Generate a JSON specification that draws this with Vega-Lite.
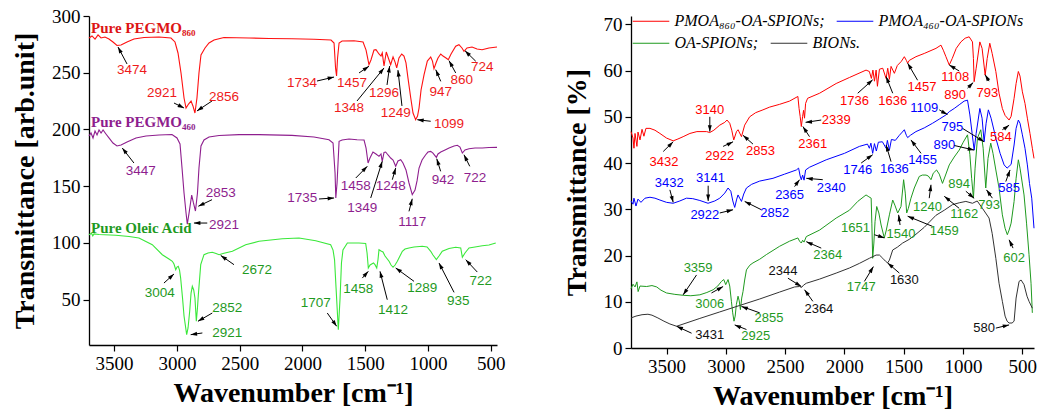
{
"$schema": "https://vega.github.io/schema/vega-lite/v6.json",
"background": "white",
"padding": {"left": 11, "top": 7, "right": 0, "bottom": 0},
"config": {
 "view": {"stroke": null},
 "axis": {"grid": false, "domainColor": "black", "tickColor": "black", "labelColor": "black", "titleColor": "black",
  "labelFont": "Liberation Serif", "labelFontSize": 19, "titleFont": "Liberation Serif", "titleFontSize": 28, "titleFontWeight": "bold",
  "labelPadding": 3, "domainWidth": 1.3, "tickWidth": 1.2, "labelOverlap": false, "labelFlush": false}
},
"datasets": {
 "Lc": [
 {"s":"R","wn":3700,"t":280.6},{"s":"R","wn":3676,"t":282.4},{"s":"R","wn":3652,"t":279.7},{"s":"R","wn":3628,"t":283.3},{"s":"R","wn":3604,"t":280.6},{"s":"R","wn":3573,"t":281.5},{"s":"R","wn":3541,"t":279.7},{"s":"R","wn":3509,"t":277.1},{"s":"R","wn":3477,"t":274},{"s":"R","wn":3445,"t":274.4},{"s":"R","wn":3397,"t":277.1},{"s":"R","wn":3342,"t":279.7},{"s":"R","wn":3262,"t":281},{"s":"R","wn":3142,"t":281.5},{"s":"R","wn":3047,"t":280.6},{"s":"R","wn":3015,"t":277.1},{"s":"R","wn":2991,"t":267.4},{"s":"R","wn":2967,"t":249.8},{"s":"R","wn":2943,"t":227.7},{"s":"R","wn":2927,"t":218.9},{"s":"R","wn":2907,"t":222.4},{"s":"R","wn":2887,"t":225.1},{"s":"R","wn":2872,"t":220.7},{"s":"R","wn":2856,"t":214.5},{"s":"R","wn":2840,"t":227.7},{"s":"R","wn":2824,"t":249.8},{"s":"R","wn":2808,"t":265.6},{"s":"R","wn":2776,"t":271.8},{"s":"R","wn":2744,"t":276.2},{"s":"R","wn":2704,"t":278.8},{"s":"R","wn":2625,"t":281},{"s":"R","wn":2425,"t":280.6},{"s":"R","wn":2266,"t":280.2},{"s":"R","wn":2083,"t":280},{"s":"R","wn":1908,"t":279.5},{"s":"R","wn":1772,"t":278.8},{"s":"R","wn":1748,"t":276.2},{"s":"R","wn":1736,"t":254.2},{"s":"R","wn":1728,"t":247.1},{"s":"R","wn":1720,"t":263},{"s":"R","wn":1708,"t":276.2},{"s":"R","wn":1684,"t":278},{"s":"R","wn":1589,"t":278.2},{"s":"R","wn":1517,"t":277.1},{"s":"R","wn":1493,"t":270},{"s":"R","wn":1470,"t":257.1},{"s":"R","wn":1454,"t":261.2},{"s":"R","wn":1430,"t":270},{"s":"R","wn":1414,"t":270.3},{"s":"R","wn":1390,"t":266.5},{"s":"R","wn":1374,"t":264.7},{"s":"R","wn":1364,"t":267.4},{"s":"R","wn":1350,"t":255.9},{"s":"R","wn":1332,"t":268.3},{"s":"R","wn":1310,"t":261.2},{"s":"R","wn":1297,"t":257.1},{"s":"R","wn":1278,"t":263.9},{"s":"R","wn":1262,"t":259.4},{"s":"R","wn":1249,"t":254.2},{"s":"R","wn":1231,"t":263},{"s":"R","wn":1209,"t":266.5},{"s":"R","wn":1191,"t":264.7},{"s":"R","wn":1175,"t":258.6},{"s":"R","wn":1159,"t":245.3},{"s":"R","wn":1137,"t":227.7},{"s":"R","wn":1119,"t":214.5},{"s":"R","wn":1098,"t":208.6},{"s":"R","wn":1083,"t":211.8},{"s":"R","wn":1071,"t":218.9},{"s":"R","wn":1055,"t":234.8},{"s":"R","wn":1031,"t":248.3},{"s":"R","wn":1005,"t":260.3},{"s":"R","wn":978,"t":263.9},{"s":"R","wn":964,"t":260.3},{"s":"R","wn":952,"t":253.5},{"s":"R","wn":936,"t":258.6},{"s":"R","wn":920,"t":263},{"s":"R","wn":898,"t":266.5},{"s":"R","wn":880,"t":264.7},{"s":"R","wn":856,"t":263},{"s":"R","wn":838,"t":261.5},{"s":"R","wn":816,"t":266.5},{"s":"R","wn":779,"t":273.3},{"s":"R","wn":753,"t":274.7},{"s":"R","wn":729,"t":271.8},{"s":"R","wn":713,"t":268.9},{"s":"R","wn":689,"t":271.8},{"s":"R","wn":649,"t":272.7},{"s":"R","wn":609,"t":270.9},{"s":"R","wn":569,"t":270.3},{"s":"R","wn":514,"t":271.8},{"s":"R","wn":450,"t":272.7},
 {"s":"P","wn":3700,"t":194.2},{"s":"P","wn":3684,"t":196.9},{"s":"P","wn":3668,"t":192.5},{"s":"P","wn":3652,"t":198.6},{"s":"P","wn":3636,"t":195.1},{"s":"P","wn":3620,"t":199.5},{"s":"P","wn":3604,"t":196.9},{"s":"P","wn":3588,"t":199.5},{"s":"P","wn":3565,"t":196},{"s":"P","wn":3541,"t":192.5},{"s":"P","wn":3509,"t":188},{"s":"P","wn":3477,"t":185.4},{"s":"P","wn":3445,"t":186.3},{"s":"P","wn":3397,"t":188.9},{"s":"P","wn":3326,"t":192.5},{"s":"P","wn":3246,"t":194.2},{"s":"P","wn":3142,"t":195.1},{"s":"P","wn":3039,"t":195.6},{"s":"P","wn":2999,"t":192.5},{"s":"P","wn":2975,"t":187.2},{"s":"P","wn":2959,"t":166},{"s":"P","wn":2943,"t":144},{"s":"P","wn":2927,"t":126.3},{"s":"P","wn":2917,"t":116.6},{"s":"P","wn":2903,"t":126.3},{"s":"P","wn":2882,"t":142.2},{"s":"P","wn":2868,"t":135.2},{"s":"P","wn":2852,"t":128.1},{"s":"P","wn":2836,"t":144},{"s":"P","wn":2824,"t":166},{"s":"P","wn":2808,"t":185.4},{"s":"P","wn":2784,"t":190.7},{"s":"P","wn":2744,"t":193.3},{"s":"P","wn":2664,"t":194.7},{"s":"P","wn":2505,"t":195.4},{"s":"P","wn":2346,"t":195.4},{"s":"P","wn":2083,"t":194.8},{"s":"P","wn":1908,"t":193.3},{"s":"P","wn":1788,"t":190.9},{"s":"P","wn":1756,"t":188},{"s":"P","wn":1740,"t":161.6},{"s":"P","wn":1734,"t":139.6},{"s":"P","wn":1724,"t":152.8},{"s":"P","wn":1708,"t":189.5},{"s":"P","wn":1684,"t":190.7},{"s":"P","wn":1629,"t":191.6},{"s":"P","wn":1565,"t":190.9},{"s":"P","wn":1509,"t":190.7},{"s":"P","wn":1493,"t":183.6},{"s":"P","wn":1477,"t":170.4},{"s":"P","wn":1462,"t":174.8},{"s":"P","wn":1438,"t":180.1},{"s":"P","wn":1414,"t":178.4},{"s":"P","wn":1390,"t":176.3},{"s":"P","wn":1374,"t":178.4},{"s":"P","wn":1364,"t":171.9},{"s":"P","wn":1350,"t":179.8},{"s":"P","wn":1337,"t":180.1},{"s":"P","wn":1318,"t":177.5},{"s":"P","wn":1297,"t":174.8},{"s":"P","wn":1278,"t":173.1},{"s":"P","wn":1257,"t":167.5},{"s":"P","wn":1239,"t":172.2},{"s":"P","wn":1217,"t":173.3},{"s":"P","wn":1199,"t":170.4},{"s":"P","wn":1175,"t":164.3},{"s":"P","wn":1151,"t":152.8},{"s":"P","wn":1125,"t":142.5},{"s":"P","wn":1103,"t":146.6},{"s":"P","wn":1087,"t":154.6},{"s":"P","wn":1071,"t":166},{"s":"P","wn":1047,"t":173.1},{"s":"P","wn":1018,"t":177.7},{"s":"P","wn":1000,"t":180.1},{"s":"P","wn":978,"t":180.7},{"s":"P","wn":960,"t":179.2},{"s":"P","wn":933,"t":175.4},{"s":"P","wn":920,"t":178.4},{"s":"P","wn":898,"t":180.1},{"s":"P","wn":864,"t":181.9},{"s":"P","wn":832,"t":183.6},{"s":"P","wn":792,"t":185.4},{"s":"P","wn":766,"t":186},{"s":"P","wn":745,"t":184.5},{"s":"P","wn":726,"t":179.2},{"s":"P","wn":705,"t":181.9},{"s":"P","wn":673,"t":183},{"s":"P","wn":625,"t":183.6},{"s":"P","wn":567,"t":183.6},{"s":"P","wn":514,"t":184.1},{"s":"P","wn":450,"t":184.2},
 {"s":"G","wn":3700,"t":107.2},{"s":"G","wn":3680,"t":108.5},{"s":"G","wn":3670,"t":106.2},{"s":"G","wn":3660,"t":107.9},{"s":"G","wn":3620,"t":107.4},{"s":"G","wn":3487,"t":106.7},{"s":"G","wn":3381,"t":105.6},{"s":"G","wn":3302,"t":104.3},{"s":"G","wn":3196,"t":98.4},{"s":"G","wn":3116,"t":89.6},{"s":"G","wn":3063,"t":85.8},{"s":"G","wn":3036,"t":83.8},{"s":"G","wn":3023,"t":81.4},{"s":"G","wn":3009,"t":76.4},{"s":"G","wn":2999,"t":78.7},{"s":"G","wn":2989,"t":79.4},{"s":"G","wn":2979,"t":76.1},{"s":"G","wn":2970,"t":69.1},{"s":"G","wn":2955,"t":51.4},{"s":"G","wn":2943,"t":35.6},{"s":"G","wn":2922,"t":19.1},{"s":"G","wn":2911,"t":25},{"s":"G","wn":2898,"t":39.7},{"s":"G","wn":2887,"t":55.8},{"s":"G","wn":2877,"t":61.7},{"s":"G","wn":2866,"t":58.5},{"s":"G","wn":2856,"t":51.4},{"s":"G","wn":2845,"t":30.9},{"s":"G","wn":2836,"t":42.6},{"s":"G","wn":2829,"t":54.3},{"s":"G","wn":2810,"t":80.8},{"s":"G","wn":2784,"t":89.6},{"s":"G","wn":2752,"t":91.1},{"s":"G","wn":2718,"t":91.7},{"s":"G","wn":2688,"t":90.6},{"s":"G","wn":2664,"t":89.6},{"s":"G","wn":2633,"t":90.6},{"s":"G","wn":2558,"t":92.6},{"s":"G","wn":2452,"t":98.4},{"s":"G","wn":2346,"t":101.4},{"s":"G","wn":2160,"t":103.7},{"s":"G","wn":2027,"t":104.3},{"s":"G","wn":1894,"t":101.9},{"s":"G","wn":1775,"t":98.4},{"s":"G","wn":1756,"t":93.7},{"s":"G","wn":1744,"t":85.1},{"s":"G","wn":1732,"t":60.2},{"s":"G","wn":1714,"t":23.5},{"s":"G","wn":1700,"t":51.4},{"s":"G","wn":1689,"t":82.3},{"s":"G","wn":1677,"t":93.7},{"s":"G","wn":1642,"t":99.9},{"s":"G","wn":1549,"t":99.9},{"s":"G","wn":1496,"t":99.5},{"s":"G","wn":1485,"t":91.1},{"s":"G","wn":1475,"t":77.9},{"s":"G","wn":1461,"t":80.5},{"s":"G","wn":1448,"t":81.4},{"s":"G","wn":1434,"t":82.3},{"s":"G","wn":1422,"t":80.8},{"s":"G","wn":1408,"t":77.9},{"s":"G","wn":1398,"t":85.1},{"s":"G","wn":1390,"t":94},{"s":"G","wn":1374,"t":92.8},{"s":"G","wn":1358,"t":92},{"s":"G","wn":1342,"t":88.4},{"s":"G","wn":1310,"t":83.8},{"s":"G","wn":1294,"t":80.5},{"s":"G","wn":1278,"t":78.5},{"s":"G","wn":1262,"t":80.5},{"s":"G","wn":1244,"t":83.8},{"s":"G","wn":1223,"t":88.4},{"s":"G","wn":1204,"t":92.6},{"s":"G","wn":1183,"t":94.6},{"s":"G","wn":1151,"t":95.5},{"s":"G","wn":1111,"t":96.4},{"s":"G","wn":1045,"t":97},{"s":"G","wn":1007,"t":96.4},{"s":"G","wn":978,"t":92.6},{"s":"G","wn":960,"t":89.3},{"s":"G","wn":933,"t":85.2},{"s":"G","wn":912,"t":88.4},{"s":"G","wn":886,"t":92.6},{"s":"G","wn":832,"t":95},{"s":"G","wn":779,"t":96.1},{"s":"G","wn":739,"t":95.5},{"s":"G","wn":726,"t":87.3},{"s":"G","wn":705,"t":91.1},{"s":"G","wn":673,"t":95.5},{"s":"G","wn":625,"t":96.4},{"s":"G","wn":567,"t":97.5},{"s":"G","wn":514,"t":98.1},{"s":"G","wn":460,"t":99.9}
 ],
 "Lt": [
 {"s":"R","wn":3357,"t":252.4,"label":"3474"},{"s":"R","wn":3118,"t":232.1,"label":"2921"},{"s":"R","wn":2625,"t":228.3,"label":"2856"},{"s":"R","wn":2003,"t":240.9,"label":"1734"},{"s":"R","wn":1605,"t":240.9,"label":"1457"},{"s":"R","wn":1629,"t":218.9,"label":"1348"},{"s":"R","wn":1350,"t":232.1,"label":"1296"},{"s":"R","wn":1257,"t":214.5,"label":"1249"},{"s":"R","wn":832,"t":204.8,"label":"1099"},{"s":"R","wn":898,"t":232.7,"label":"947"},{"s":"R","wn":731,"t":243.8,"label":"860"},{"s":"R","wn":567,"t":255,"label":"724"},
 {"s":"P","wn":3288,"t":163.6,"label":"3447"},{"s":"P","wn":2651,"t":144,"label":"2853"},{"s":"P","wn":2625,"t":116,"label":"2921"},{"s":"P","wn":2001,"t":139.6,"label":"1735"},{"s":"P","wn":1575,"t":149.9,"label":"1458"},{"s":"P","wn":1523,"t":130.8,"label":"1349"},{"s":"P","wn":1297,"t":149.9,"label":"1248"},{"s":"P","wn":1125,"t":118.4,"label":"1117"},{"s":"P","wn":880,"t":155.7,"label":"942"},{"s":"P","wn":625,"t":157.2,"label":"722"},
 {"s":"G","wn":3137,"t":55.8,"label":"3004"},{"s":"G","wn":2598,"t":42.6,"label":"2852"},{"s":"G","wn":2598,"t":20.6,"label":"2921"},{"s":"G","wn":2362,"t":76.4,"label":"2672"},{"s":"G","wn":1894,"t":47,"label":"1707"},{"s":"G","wn":1555,"t":59.6,"label":"1458"},{"s":"G","wn":1278,"t":41.1,"label":"1412"},{"s":"G","wn":1045,"t":60.2,"label":"1289"},{"s":"G","wn":758,"t":48.5,"label":"935"},{"s":"G","wn":580,"t":66.1,"label":"722"}
 ],
 "Ln": [
 {"s":"R","wn":3684,"t":289.4,"label":"Pure PEGMO₈₆₀"},{"s":"P","wn":3684,"t":206.6,"label":"Pure PEGMO₄₆₀"},{"s":"G","wn":3684,"t":113.1,"label":"Pure Oleic Acid"}
 ],
 "La": [
 {"x1":3397,"y1":257.7,"x2":3469,"y2":272.7,"a":-28},{"x1":3023,"y1":223.3,"x2":2943,"y2":218.9,"a":117},{"x1":2720,"y1":225.1,"x2":2840,"y2":216.3,"a":-124},{"x1":1884,"y1":242.7,"x2":1748,"y2":246.2,"a":77},{"x1":1549,"y1":249.8,"x2":1470,"y2":255.7,"a":56},{"x1":1565,"y1":225.1,"x2":1350,"y2":254.2,"a":39},{"x1":1326,"y1":239.2,"x2":1305,"y2":255.9,"a":8},{"x1":1207,"y1":220.7,"x2":1239,"y2":252.3,"a":-7},{"x1":978,"y1":207.2,"x2":1085,"y2":208.6,"a":-83},{"x1":898,"y1":242.4,"x2":938,"y2":252.7,"a":-23},{"x1":779,"y1":249.8,"x2":832,"y2":260.6,"a":-29},{"x1":619,"y1":260.1,"x2":705,"y2":269.4,"a":-45},
 {"x1":3342,"y1":170.4,"x2":3435,"y2":183.6,"a":-38},{"x1":2720,"y1":138.1,"x2":2829,"y2":132.3,"a":-116},{"x1":2758,"y1":117.5,"x2":2864,"y2":117.5,"a":-90},{"x1":1868,"y1":138.7,"x2":1748,"y2":139.6,"a":86},{"x1":1575,"y1":157.2,"x2":1483,"y2":167.5,"a":45},{"x1":1456,"y1":139.6,"x2":1364,"y2":171.9,"a":18},{"x1":1284,"y1":155.7,"x2":1257,"y2":166,"a":16},{"x1":1151,"y1":127.8,"x2":1125,"y2":138.9,"a":15},{"x1":899,"y1":163.1,"x2":930,"y2":174.2,"a":-18},{"x1":667,"y1":167.5,"x2":713,"y2":177.7,"a":-26},
 {"x1":3103,"y1":64.6,"x2":3023,"y2":72.6,"a":48},{"x1":2718,"y1":38.2,"x2":2832,"y2":30.9,"a":-120},{"x1":2797,"y1":20.6,"x2":2890,"y2":19.1,"a":-98},{"x1":2545,"y1":80.8,"x2":2651,"y2":89,"a":-55},{"x1":1802,"y1":38.2,"x2":1727,"y2":26.5,"a":145},{"x1":1523,"y1":69,"x2":1475,"y2":74.9,"a":42},{"x1":1324,"y1":49.9,"x2":1382,"y2":74.9,"a":-14},{"x1":1111,"y1":66.1,"x2":1257,"y2":77.9,"a":-54},{"x1":792,"y1":56.4,"x2":912,"y2":82.3,"a":-27},{"x1":607,"y1":74.3,"x2":699,"y2":85.2,"a":-43}
 ],
 "Rc1": [
 {"s":"R","wn":3800,"t":46.8},{"s":"R","wn":3783,"t":45.4},{"s":"R","wn":3775,"t":43.2},{"s":"R","wn":3766,"t":46.4},{"s":"R","wn":3750,"t":43.6},{"s":"R","wn":3741,"t":46.7},{"s":"R","wn":3724,"t":45},{"s":"R","wn":3707,"t":47.3},{"s":"R","wn":3691,"t":45.8},{"s":"R","wn":3674,"t":47.5},{"s":"R","wn":3640,"t":47.5},{"s":"R","wn":3598,"t":47.1},{"s":"R","wn":3556,"t":46.4},{"s":"R","wn":3500,"t":45.4},{"s":"R","wn":3444,"t":44.8},{"s":"R","wn":3404,"t":45.2},{"s":"R","wn":3360,"t":45.7},{"s":"R","wn":3303,"t":46.4},{"s":"R","wn":3244,"t":46.8},{"s":"R","wn":3163,"t":46.8},{"s":"R","wn":3135,"t":46.6},{"s":"R","wn":3101,"t":47.1},{"s":"R","wn":3051,"t":48.2},{"s":"R","wn":3009,"t":48.8},{"s":"R","wn":2990,"t":49.3},{"s":"R","wn":2967,"t":48.6},{"s":"R","wn":2950,"t":47.1},{"s":"R","wn":2933,"t":45},{"s":"R","wn":2910,"t":46.8},{"s":"R","wn":2897,"t":47.2},{"s":"R","wn":2868,"t":45.7},{"s":"R","wn":2841,"t":48.2},{"s":"R","wn":2799,"t":50},{"s":"R","wn":2748,"t":50.9},{"s":"R","wn":2687,"t":51.5},{"s":"R","wn":2630,"t":52.1},{"s":"R","wn":2546,"t":52.7},{"s":"R","wn":2462,"t":53.4},{"s":"R","wn":2392,"t":54.4},{"s":"R","wn":2382,"t":51.8},{"s":"R","wn":2373,"t":50.1},{"s":"R","wn":2363,"t":47.9},{"s":"R","wn":2352,"t":50.1},{"s":"R","wn":2344,"t":51.4},{"s":"R","wn":2336,"t":49.7},{"s":"R","wn":2327,"t":52.9},{"s":"R","wn":2310,"t":54},{"s":"R","wn":2209,"t":55.1},{"s":"R","wn":2069,"t":57.2},{"s":"R","wn":1957,"t":58.5},{"s":"R","wn":1817,"t":60.1},{"s":"R","wn":1789,"t":59.8},{"s":"R","wn":1772,"t":58.3},{"s":"R","wn":1759,"t":60.1},{"s":"R","wn":1746,"t":57.7},{"s":"R","wn":1732,"t":60.1},{"s":"R","wn":1721,"t":56.6},{"s":"R","wn":1704,"t":60.3},{"s":"R","wn":1676,"t":60.5},{"s":"R","wn":1648,"t":58.3},{"s":"R","wn":1634,"t":60.5},{"s":"R","wn":1620,"t":58.1},{"s":"R","wn":1606,"t":60.9},{"s":"R","wn":1578,"t":59.4},{"s":"R","wn":1553,"t":61.1},{"s":"R","wn":1519,"t":62},{"s":"R","wn":1494,"t":63},{"s":"R","wn":1477,"t":62.2},{"s":"R","wn":1466,"t":61.6},{"s":"R","wn":1452,"t":62.2},{"s":"R","wn":1396,"t":63},{"s":"R","wn":1326,"t":63.7},{"s":"R","wn":1227,"t":64.8},{"s":"R","wn":1185,"t":65.5},{"s":"R","wn":1165,"t":64.4},{"s":"R","wn":1143,"t":63},{"s":"R","wn":1115,"t":61.2},{"s":"R","wn":1090,"t":62.6},{"s":"R","wn":1056,"t":64.8},{"s":"R","wn":1017,"t":66.2},{"s":"R","wn":981,"t":67},{"s":"R","wn":947,"t":67.3},{"s":"R","wn":919,"t":66.2},{"s":"R","wn":911,"t":62.6},{"s":"R","wn":905,"t":57.6},{"s":"R","wn":888,"t":60.5},{"s":"R","wn":857,"t":66.2},{"s":"R","wn":838,"t":64.8},{"s":"R","wn":812,"t":59},{"s":"R","wn":795,"t":62.6},{"s":"R","wn":773,"t":65.9},{"s":"R","wn":753,"t":63.7},{"s":"R","wn":722,"t":59.8},{"s":"R","wn":695,"t":55.1},{"s":"R","wn":667,"t":51.8},{"s":"R","wn":644,"t":50.3},{"s":"R","wn":610,"t":49.3},{"s":"R","wn":593,"t":50.1},{"s":"R","wn":568,"t":54},{"s":"R","wn":551,"t":57.2},{"s":"R","wn":532,"t":59.8},{"s":"R","wn":518,"t":58.8},{"s":"R","wn":498,"t":55.4},{"s":"R","wn":476,"t":52.9},{"s":"R","wn":456,"t":49.7},{"s":"R","wn":434,"t":46.4},{"s":"R","wn":414,"t":43.2},{"s":"R","wn":400,"t":41},
 {"s":"B","wn":3800,"t":31.8},{"s":"B","wn":3783,"t":31.1},{"s":"B","wn":3775,"t":32.4},{"s":"B","wn":3758,"t":30.7},{"s":"B","wn":3741,"t":32.2},{"s":"B","wn":3716,"t":31.5},{"s":"B","wn":3682,"t":32.4},{"s":"B","wn":3640,"t":32.6},{"s":"B","wn":3598,"t":32.4},{"s":"B","wn":3556,"t":32},{"s":"B","wn":3500,"t":31.5},{"s":"B","wn":3444,"t":31.3},{"s":"B","wn":3388,"t":31.8},{"s":"B","wn":3332,"t":32.4},{"s":"B","wn":3279,"t":32.3},{"s":"B","wn":3219,"t":31.9},{"s":"B","wn":3150,"t":31.3},{"s":"B","wn":3093,"t":31.8},{"s":"B","wn":3051,"t":32.4},{"s":"B","wn":3009,"t":33.5},{"s":"B","wn":2981,"t":34.6},{"s":"B","wn":2958,"t":33.9},{"s":"B","wn":2941,"t":31.8},{"s":"B","wn":2925,"t":30.4},{"s":"B","wn":2908,"t":32.2},{"s":"B","wn":2897,"t":33.1},{"s":"B","wn":2883,"t":32.4},{"s":"B","wn":2868,"t":31.7},{"s":"B","wn":2849,"t":33.3},{"s":"B","wn":2826,"t":34.6},{"s":"B","wn":2782,"t":35.4},{"s":"B","wn":2714,"t":36.1},{"s":"B","wn":2602,"t":36.7},{"s":"B","wn":2504,"t":37.6},{"s":"B","wn":2405,"t":38.5},{"s":"B","wn":2386,"t":38.9},{"s":"B","wn":2373,"t":37.2},{"s":"B","wn":2363,"t":36.4},{"s":"B","wn":2352,"t":37.4},{"s":"B","wn":2340,"t":36.3},{"s":"B","wn":2327,"t":38.5},{"s":"B","wn":2293,"t":39.1},{"s":"B","wn":2153,"t":40.7},{"s":"B","wn":1999,"t":42.1},{"s":"B","wn":1873,"t":43.6},{"s":"B","wn":1805,"t":44.1},{"s":"B","wn":1789,"t":43.2},{"s":"B","wn":1776,"t":44.3},{"s":"B","wn":1761,"t":42.1},{"s":"B","wn":1746,"t":44.2},{"s":"B","wn":1730,"t":42.6},{"s":"B","wn":1713,"t":44.5},{"s":"B","wn":1679,"t":44.6},{"s":"B","wn":1648,"t":43.2},{"s":"B","wn":1637,"t":44.9},{"s":"B","wn":1620,"t":42.8},{"s":"B","wn":1603,"t":45.1},{"s":"B","wn":1570,"t":44.9},{"s":"B","wn":1536,"t":46},{"s":"B","wn":1511,"t":46.7},{"s":"B","wn":1494,"t":47.2},{"s":"B","wn":1477,"t":46},{"s":"B","wn":1466,"t":45.5},{"s":"B","wn":1443,"t":46},{"s":"B","wn":1396,"t":46.8},{"s":"B","wn":1326,"t":47.6},{"s":"B","wn":1256,"t":48.6},{"s":"B","wn":1199,"t":49.5},{"s":"B","wn":1143,"t":50.4},{"s":"B","wn":1115,"t":51.1},{"s":"B","wn":1073,"t":51.8},{"s":"B","wn":1031,"t":52.6},{"s":"B","wn":989,"t":53.4},{"s":"B","wn":961,"t":53.6},{"s":"B","wn":941,"t":50.4},{"s":"B","wn":922,"t":46.4},{"s":"B","wn":905,"t":42.8},{"s":"B","wn":888,"t":46.4},{"s":"B","wn":857,"t":51.8},{"s":"B","wn":838,"t":49.7},{"s":"B","wn":821,"t":44.6},{"s":"B","wn":804,"t":48.6},{"s":"B","wn":785,"t":51.5},{"s":"B","wn":762,"t":49.7},{"s":"B","wn":722,"t":45.4},{"s":"B","wn":686,"t":42.1},{"s":"B","wn":652,"t":39.6},{"s":"B","wn":627,"t":38.9},{"s":"B","wn":610,"t":39.3},{"s":"B","wn":593,"t":39.7},{"s":"B","wn":568,"t":43.9},{"s":"B","wn":551,"t":47.5},{"s":"B","wn":532,"t":49.3},{"s":"B","wn":518,"t":48.6},{"s":"B","wn":498,"t":46.1},{"s":"B","wn":476,"t":43.2},{"s":"B","wn":456,"t":39.6},{"s":"B","wn":438,"t":35.6},{"s":"B","wn":419,"t":32.4},{"s":"B","wn":400,"t":25.9}
 ],
 "Rc2": [
 {"s":"G","wn":3800,"t":12.8},{"s":"G","wn":3783,"t":13.8},{"s":"G","wn":3766,"t":13.2},{"s":"G","wn":3750,"t":14.3},{"s":"G","wn":3740,"t":12.2},{"s":"G","wn":3724,"t":13.4},{"s":"G","wn":3668,"t":13.3},{"s":"G","wn":3623,"t":13.5},{"s":"G","wn":3583,"t":13.2},{"s":"G","wn":3547,"t":12.5},{"s":"G","wn":3500,"t":11.9},{"s":"G","wn":3430,"t":11.6},{"s":"G","wn":3360,"t":11.4},{"s":"G","wn":3295,"t":11.3},{"s":"G","wn":3219,"t":11.5},{"s":"G","wn":3160,"t":12},{"s":"G","wn":3107,"t":12.6},{"s":"G","wn":3068,"t":13.4},{"s":"G","wn":3037,"t":14.4},{"s":"G","wn":3017,"t":14.8},{"s":"G","wn":3001,"t":13.7},{"s":"G","wn":2981,"t":14.8},{"s":"G","wn":2967,"t":13.4},{"s":"G","wn":2953,"t":10.1},{"s":"G","wn":2942,"t":7.6},{"s":"G","wn":2931,"t":5.8},{"s":"G","wn":2921,"t":6.9},{"s":"G","wn":2911,"t":9.4},{"s":"G","wn":2897,"t":11.2},{"s":"G","wn":2887,"t":10.2},{"s":"G","wn":2877,"t":8.3},{"s":"G","wn":2866,"t":10.8},{"s":"G","wn":2855,"t":12.2},{"s":"G","wn":2841,"t":14.7},{"s":"G","wn":2826,"t":16.9},{"s":"G","wn":2798,"t":17.9},{"s":"G","wn":2771,"t":18.4},{"s":"G","wn":2714,"t":19.2},{"s":"G","wn":2658,"t":20.2},{"s":"G","wn":2546,"t":22},{"s":"G","wn":2462,"t":23.1},{"s":"G","wn":2392,"t":23.8},{"s":"G","wn":2378,"t":23.1},{"s":"G","wn":2363,"t":22.7},{"s":"G","wn":2352,"t":23.3},{"s":"G","wn":2340,"t":22.9},{"s":"G","wn":2321,"t":24.1},{"s":"G","wn":2209,"t":25.5},{"s":"G","wn":2069,"t":28.1},{"s":"G","wn":1957,"t":29.8},{"s":"G","wn":1887,"t":31.7},{"s":"G","wn":1817,"t":33.1},{"s":"G","wn":1793,"t":32.7},{"s":"G","wn":1774,"t":32.4},{"s":"G","wn":1768,"t":27},{"s":"G","wn":1761,"t":19.4},{"s":"G","wn":1751,"t":22.7},{"s":"G","wn":1741,"t":27.4},{"s":"G","wn":1727,"t":30.6},{"s":"G","wn":1709,"t":29.2},{"s":"G","wn":1690,"t":26.6},{"s":"G","wn":1663,"t":23.8},{"s":"G","wn":1646,"t":25.5},{"s":"G","wn":1620,"t":28.8},{"s":"G","wn":1592,"t":32},{"s":"G","wn":1574,"t":30.9},{"s":"G","wn":1550,"t":29.2},{"s":"G","wn":1522,"t":30.6},{"s":"G","wn":1500,"t":36.4},{"s":"G","wn":1486,"t":33.5},{"s":"G","wn":1474,"t":29.2},{"s":"G","wn":1460,"t":30.2},{"s":"G","wn":1438,"t":32.4},{"s":"G","wn":1410,"t":34.6},{"s":"G","wn":1368,"t":37.1},{"s":"G","wn":1342,"t":37.4},{"s":"G","wn":1311,"t":37.4},{"s":"G","wn":1292,"t":37.2},{"s":"G","wn":1269,"t":36.4},{"s":"G","wn":1250,"t":37.8},{"s":"G","wn":1222,"t":38.5},{"s":"G","wn":1199,"t":37.6},{"s":"G","wn":1172,"t":35.6},{"s":"G","wn":1149,"t":37.2},{"s":"G","wn":1115,"t":39.6},{"s":"G","wn":1073,"t":41.3},{"s":"G","wn":1031,"t":42.8},{"s":"G","wn":997,"t":44.5},{"s":"G","wn":961,"t":46.1},{"s":"G","wn":941,"t":41.8},{"s":"G","wn":926,"t":36.7},{"s":"G","wn":911,"t":32.4},{"s":"G","wn":897,"t":38.9},{"s":"G","wn":877,"t":45.4},{"s":"G","wn":849,"t":47.2},{"s":"G","wn":829,"t":43.2},{"s":"G","wn":807,"t":34.6},{"s":"G","wn":788,"t":41},{"s":"G","wn":765,"t":44.3},{"s":"G","wn":746,"t":42.1},{"s":"G","wn":722,"t":38.5},{"s":"G","wn":695,"t":34.6},{"s":"G","wn":667,"t":28.8},{"s":"G","wn":644,"t":25.9},{"s":"G","wn":625,"t":24.5},{"s":"G","wn":610,"t":25.5},{"s":"G","wn":593,"t":27},{"s":"G","wn":568,"t":31.7},{"s":"G","wn":551,"t":36.7},{"s":"G","wn":532,"t":40.7},{"s":"G","wn":518,"t":38.9},{"s":"G","wn":484,"t":33.1},{"s":"G","wn":463,"t":27},{"s":"G","wn":442,"t":20.2},{"s":"G","wn":425,"t":14},{"s":"G","wn":414,"t":7.6},
 {"s":"K","wn":3800,"t":6.5},{"s":"K","wn":3758,"t":6.9},{"s":"K","wn":3707,"t":7.2},{"s":"K","wn":3657,"t":7.3},{"s":"K","wn":3623,"t":7.1},{"s":"K","wn":3573,"t":6.5},{"s":"K","wn":3522,"t":5.8},{"s":"K","wn":3472,"t":5.2},{"s":"K","wn":3415,"t":4.7},{"s":"K","wn":3219,"t":6.4},{"s":"K","wn":3051,"t":7.8},{"s":"K","wn":2883,"t":9.2},{"s":"K","wn":2714,"t":10.6},{"s":"K","wn":2546,"t":12.1},{"s":"K","wn":2420,"t":13.2},{"s":"K","wn":2378,"t":13.3},{"s":"K","wn":2361,"t":13.1},{"s":"K","wn":2344,"t":13.6},{"s":"K","wn":2321,"t":14},{"s":"K","wn":2209,"t":14.9},{"s":"K","wn":2069,"t":16.2},{"s":"K","wn":1957,"t":17.3},{"s":"K","wn":1873,"t":18.3},{"s":"K","wn":1789,"t":19.4},{"s":"K","wn":1732,"t":20.1},{"s":"K","wn":1704,"t":20.1},{"s":"K","wn":1676,"t":19.4},{"s":"K","wn":1654,"t":18.8},{"s":"K","wn":1635,"t":18.4},{"s":"K","wn":1620,"t":19},{"s":"K","wn":1592,"t":21.2},{"s":"K","wn":1553,"t":21.8},{"s":"K","wn":1508,"t":22.7},{"s":"K","wn":1452,"t":23.5},{"s":"K","wn":1396,"t":24.6},{"s":"K","wn":1326,"t":26.1},{"s":"K","wn":1227,"t":28.7},{"s":"K","wn":1157,"t":29.8},{"s":"K","wn":1088,"t":31},{"s":"K","wn":1031,"t":31.4},{"s":"K","wn":975,"t":31.7},{"s":"K","wn":919,"t":31.3},{"s":"K","wn":879,"t":31.8},{"s":"K","wn":835,"t":30.2},{"s":"K","wn":779,"t":28.1},{"s":"K","wn":753,"t":24.8},{"s":"K","wn":722,"t":19.4},{"s":"K","wn":695,"t":14},{"s":"K","wn":667,"t":10.1},{"s":"K","wn":644,"t":6.9},{"s":"K","wn":627,"t":5.8},{"s":"K","wn":610,"t":5.4},{"s":"K","wn":585,"t":5.4},{"s":"K","wn":568,"t":5.8},{"s":"K","wn":551,"t":10.8},{"s":"K","wn":526,"t":14.4},{"s":"K","wn":509,"t":14.7},{"s":"K","wn":484,"t":13.7},{"s":"K","wn":459,"t":11.2},{"s":"K","wn":442,"t":10.1},{"s":"K","wn":414,"t":8.6}
 ],
 "Rt": [
 {"s":"R","wn":3522,"t":40.3,"label":"3432"},{"s":"R","wn":3135,"t":51.5,"label":"3140"},{"s":"R","wn":3051,"t":41.6,"label":"2922"},{"s":"R","wn":2708,"t":42.6,"label":"2853"},{"s":"R","wn":2069,"t":49.3,"label":"2339"},{"s":"R","wn":2266,"t":44.1,"label":"2361"},{"s":"R","wn":1915,"t":53.4,"label":"1736"},{"s":"R","wn":1592,"t":53.4,"label":"1636"},{"s":"R","wn":1345,"t":56.5,"label":"1457"},{"s":"R","wn":1065,"t":58.5,"label":"1108"},{"s":"R","wn":1065,"t":54.7,"label":"890"},{"s":"R","wn":793,"t":55.1,"label":"793"},{"s":"R","wn":680,"t":45.7,"label":"584"},
 {"s":"B","wn":3478,"t":35.6,"label":"3432"},{"s":"B","wn":3129,"t":36.7,"label":"3141"},{"s":"B","wn":3177,"t":28.8,"label":"2922"},{"s":"B","wn":2588,"t":29.2,"label":"2852"},{"s":"B","wn":2462,"t":33.1,"label":"2365"},{"s":"B","wn":2111,"t":34.7,"label":"2340"},{"s":"B","wn":1887,"t":38.5,"label":"1746"},{"s":"B","wn":1578,"t":38.7,"label":"1636"},{"s":"B","wn":1340,"t":40.7,"label":"1455"},{"s":"B","wn":1326,"t":51.8,"label":"1109"},{"s":"B","wn":1088,"t":47.7,"label":"795"},{"s":"B","wn":1157,"t":43.9,"label":"890"},{"s":"B","wn":610,"t":34.6,"label":"585"},
 {"s":"G","wn":3234,"t":17.3,"label":"3359"},{"s":"G","wn":3135,"t":9.5,"label":"3006"},{"s":"G","wn":2748,"t":2.5,"label":"2925"},{"s":"G","wn":2636,"t":6.5,"label":"2855"},{"s":"G","wn":2140,"t":20.2,"label":"2364"},{"s":"G","wn":1858,"t":13.1,"label":"1747"},{"s":"G","wn":1906,"t":25.9,"label":"1651"},{"s":"G","wn":1522,"t":24.7,"label":"1540"},{"s":"G","wn":1157,"t":25.3,"label":"1459"},{"s":"G","wn":1298,"t":30.6,"label":"1240"},{"s":"G","wn":989,"t":28.9,"label":"1162"},{"s":"G","wn":1031,"t":35.4,"label":"894"},{"s":"G","wn":779,"t":31,"label":"793"},{"s":"G","wn":568,"t":19.4,"label":"602"},
 {"s":"K","wn":3135,"t":2.9,"label":"3431"},{"s":"K","wn":2518,"t":16.7,"label":"2344"},{"s":"K","wn":2215,"t":8.5,"label":"2364"},{"s":"K","wn":1494,"t":14.8,"label":"1630"},{"s":"K","wn":821,"t":4.3,"label":"580"}
 ],
 "Ra": [
 {"x1":3528,"y1":42.5,"x2":3444,"y2":44.6,"a":45},{"x1":3135,"y1":50,"x2":3135,"y2":46.8,"a":180},{"x1":3023,"y1":43.6,"x2":2939,"y2":44.6,"a":63},{"x1":2771,"y1":44.1,"x2":2855,"y2":46,"a":-49},{"x1":2195,"y1":49.3,"x2":2327,"y2":48.8,"a":-95},{"x1":2294,"y1":45.7,"x2":2350,"y2":47.9,"a":-34},{"x1":1887,"y1":55.1,"x2":1761,"y2":58,"a":48},{"x1":1592,"y1":55.1,"x2":1648,"y2":58.7,"a":-22},{"x1":1382,"y1":57.9,"x2":1466,"y2":61.6,"a":-31},{"x1":1031,"y1":59.9,"x2":1115,"y2":61.2,"a":-59},{"x1":961,"y1":56.2,"x2":913,"y2":57.4,"a":45},{"x1":779,"y1":57.7,"x2":812,"y2":59.1,"a":-31},{"x1":667,"y1":47.2,"x2":610,"y2":48.2,"a":53},
 {"x1":3472,"y1":34.2,"x2":3444,"y2":31.5,"a":165},{"x1":3149,"y1":35.1,"x2":3149,"y2":31.8,"a":180},{"x1":3051,"y1":29.2,"x2":2939,"y2":29.9,"a":76},{"x1":2700,"y1":29.9,"x2":2841,"y2":31.7,"a":-63},{"x1":2420,"y1":34.9,"x2":2378,"y2":36.4,"a":37},{"x1":2182,"y1":36.4,"x2":2321,"y2":36.7,"a":-84},{"x1":1858,"y1":40,"x2":1761,"y2":41.8,"a":54},{"x1":1606,"y1":40.3,"x2":1648,"y2":43.9,"a":-17},{"x1":1353,"y1":42.1,"x2":1438,"y2":45,"a":-37},{"x1":1199,"y1":51.5,"x2":1130,"y2":50.5,"a":117},{"x1":1003,"y1":47.5,"x2":821,"y2":44.6,"a":122},{"x1":1073,"y1":43.8,"x2":905,"y2":42.8,"a":102},{"x1":638,"y1":36,"x2":602,"y2":38.5,"a":20},
 {"x1":3247,"y1":15.8,"x2":3360,"y2":11.5,"a":-146},{"x1":3121,"y1":11.9,"x2":3023,"y2":13.3,"a":60},{"x1":2826,"y1":4,"x2":2925,"y2":5,"a":-67},{"x1":2714,"y1":7.6,"x2":2868,"y2":9,"a":-70},{"x1":2195,"y1":21.6,"x2":2321,"y2":23,"a":-66},{"x1":1831,"y1":14.4,"x2":1755,"y2":17.6,"a":31},{"x1":1747,"y1":24.5,"x2":1662,"y2":23.8,"a":108},{"x1":1530,"y1":26.6,"x2":1542,"y2":28.8,"a":-8},{"x1":1256,"y1":26.3,"x2":1466,"y2":28.5,"a":-68},{"x1":1284,"y1":32.4,"x2":1269,"y2":35.3,"a":7},{"x1":1031,"y1":30.2,"x2":1157,"y2":32.8,"a":-52},{"x1":975,"y1":33.9,"x2":905,"y2":32.4,"a":129},{"x1":751,"y1":32.4,"x2":801,"y2":34.2,"a":-36},{"x1":577,"y1":21.6,"x2":610,"y2":23.4,"a":-26},
 {"x1":3289,"y1":3.2,"x2":3415,"y2":4.7,"a":-66},{"x1":2476,"y1":15.1,"x2":2363,"y2":13.3,"a":122},{"x1":2266,"y1":10.1,"x2":2336,"y2":12.6,"a":-36},{"x1":1536,"y1":16.2,"x2":1635,"y2":18.4,"a":-50},{"x1":722,"y1":4.3,"x2":610,"y2":5,"a":76}
 ]
},
"spacing": 134,
"bounds": "flush",
"hconcat": [
 {
  "width": 408, "height": 329,
  "resolve": {"scale": {"color": "independent"}},
  "layer": [
   {"data": {"name": "Lc"}, "mark": {"type": "line", "strokeWidth": 1.1},
    "encoding": {
     "x": {"field": "wn", "type": "quantitative", "scale": {"domain": [450, 3700], "reverse": true, "nice": false, "zero": false},
      "axis": {"title": "Wavenumber [cm⁻¹]", "values": [500,750,1000,1250,1500,1750,2000,2250,2500,2750,3000,3250,3500], "labelExpr": "datum.value % 500 === 0 ? datum.label : ''", "format": "d", "tickSize": {"condition": {"test": "datum.value % 500 === 0", "value": 6}, "value": 3}, "titlePadding": 6}},
     "y": {"field": "t", "type": "quantitative", "scale": {"domain": [10, 300], "nice": false, "zero": false},
      "axis": {"title": "Transmittance [arb.unit]", "orient": "left", "values": [50,100,150,200,250,300], "format": "d", "tickSize": 6, "labels": true, "titlePadding": 12}},
     "color": {"field": "s", "type": "nominal", "scale": {"domain": ["R","P","G"], "range": ["#ff1010","#8e1e8e","#3ae83a"]}, "legend": null}
    }},
   {"data": {"name": "La"}, "mark": {"type": "rule", "color": "black", "strokeWidth": 1},
    "encoding": {"x": {"field": "x1", "type": "quantitative"}, "y": {"field": "y1", "type": "quantitative"}, "x2": {"field": "x2"}, "y2": {"field": "y2"}}},
   {"data": {"name": "La"}, "mark": {"type": "point", "shape": "M0,0L-1,3.2L1,3.2Z", "filled": true, "color": "black", "size": 16, "opacity": 1, "strokeWidth": 0},
    "encoding": {"x": {"field": "x2", "type": "quantitative"}, "y": {"field": "y2", "type": "quantitative"}, "angle": {"field": "a", "type": "quantitative", "scale": null}}},
   {"data": {"name": "Lt"}, "mark": {"type": "text", "font": "Liberation Sans", "fontSize": 13.5, "align": "center", "baseline": "middle"},
    "encoding": {"x": {"field": "wn", "type": "quantitative"}, "y": {"field": "t", "type": "quantitative"}, "text": {"field": "label"},
     "color": {"field": "s", "type": "nominal", "scale": {"domain": ["R","P","G"], "range": ["#ee1b1b","#8e1e8e","#1f9a1f"]}, "legend": null}}},
   {"data": {"name": "Ln"}, "mark": {"type": "text", "font": "Liberation Serif", "fontWeight": "bold", "fontSize": 15, "align": "left", "baseline": "middle"},
    "encoding": {"x": {"field": "wn", "type": "quantitative"}, "y": {"field": "t", "type": "quantitative"}, "text": {"field": "label"},
     "color": {"field": "s", "type": "nominal", "scale": {"domain": ["R","P","G"], "range": ["#dd1515","#8e1e8e","#1f9a1f"]}, "legend": null}}}
  ]
 },
 {
  "width": 403, "height": 332,
  "resolve": {"scale": {"color": "independent"}},
  "layer": [
   {"data": {"name": "Rc1"}, "mark": {"type": "line", "strokeWidth": 1},
    "encoding": {
     "x": {"field": "wn", "type": "quantitative", "scale": {"domain": [400, 3800], "reverse": true, "nice": false, "zero": false},
      "axis": {"title": "Wavenumber [cm⁻¹]", "values": [500,750,1000,1250,1500,1750,2000,2250,2500,2750,3000,3250,3500,3750], "labelExpr": "datum.value % 500 === 0 ? datum.label : ''", "format": "d", "tickSize": {"condition": {"test": "datum.value % 500 === 0", "value": 6}, "value": 3}, "titlePadding": 6}},
     "y": {"field": "t", "type": "quantitative", "scale": {"domain": [0, 71.8], "nice": false, "zero": false},
      "axis": {"title": "Transmittance [%]", "values": [0,5,10,15,20,25,30,35,40,45,50,55,60,65,70], "labelExpr": "datum.value % 10 === 0 ? datum.label : ''", "format": "d", "tickSize": {"condition": {"test": "datum.value % 10 === 0", "value": 6}, "value": 3}, "titlePadding": 12}},
     "color": {"field": "s", "type": "nominal", "scale": {"domain": ["R","B"], "range": ["#ff0000","#0000ff"]},
      "legend": {"orient": "none", "legendX": 9.5, "legendY": -5.5, "direction": "horizontal", "title": null,
       "symbolType": "M-1.83,0H1.83", "symbolSize": 400, "symbolStrokeWidth": 1, "labelFont": "Liberation Serif", "labelFontStyle": "italic", "labelFontSize": 16, "labelColor": "black", "labelOffset": 13, "columnPadding": 10, "labelLimit": 0, "padding": 0,
       "labelExpr": "datum.label == 'R' ? 'PMOA₈₆₀-OA-SPIONs;' : 'PMOA₄₆₀-OA-SPIONs'"}}
    }},
   {"data": {"name": "Rc2"}, "mark": {"type": "line", "strokeWidth": 1},
    "encoding": {
     "x": {"field": "wn", "type": "quantitative"},
     "y": {"field": "t", "type": "quantitative"},
     "color": {"field": "s", "type": "nominal", "scale": {"domain": ["G","K"], "range": ["#1f9a1f","#333333"]},
      "legend": {"orient": "none", "legendX": 9.5, "legendY": 16.5, "direction": "horizontal", "title": null,
       "symbolType": "M-1.83,0H1.83", "symbolSize": 400, "symbolStrokeWidth": 1, "labelFont": "Liberation Serif", "labelFontStyle": "italic", "labelFontSize": 16, "labelColor": "black", "labelOffset": 13, "columnPadding": 10, "labelLimit": 0, "padding": 0,
       "labelExpr": "datum.label == 'G' ? 'OA-SPIONs;' : 'BIONs.'"}}
    }},
   {"data": {"name": "Ra"}, "mark": {"type": "rule", "color": "black", "strokeWidth": 1},
    "encoding": {"x": {"field": "x1", "type": "quantitative"}, "y": {"field": "y1", "type": "quantitative"}, "x2": {"field": "x2"}, "y2": {"field": "y2"}}},
   {"data": {"name": "Ra"}, "mark": {"type": "point", "shape": "M0,0L-1,3.2L1,3.2Z", "filled": true, "color": "black", "size": 16, "opacity": 1, "strokeWidth": 0},
    "encoding": {"x": {"field": "x2", "type": "quantitative"}, "y": {"field": "y2", "type": "quantitative"}, "angle": {"field": "a", "type": "quantitative", "scale": null}}},
   {"data": {"name": "Rt"}, "mark": {"type": "text", "font": "Liberation Sans", "fontSize": 13, "align": "center", "baseline": "middle"},
    "encoding": {"x": {"field": "wn", "type": "quantitative"}, "y": {"field": "t", "type": "quantitative"}, "text": {"field": "label"},
     "color": {"field": "s", "type": "nominal", "scale": {"domain": ["R","B","G","K"], "range": ["#ff0000","#0000ff","#1f9a1f","#111111"]}, "legend": null}}}
  ]
 }
]
}
